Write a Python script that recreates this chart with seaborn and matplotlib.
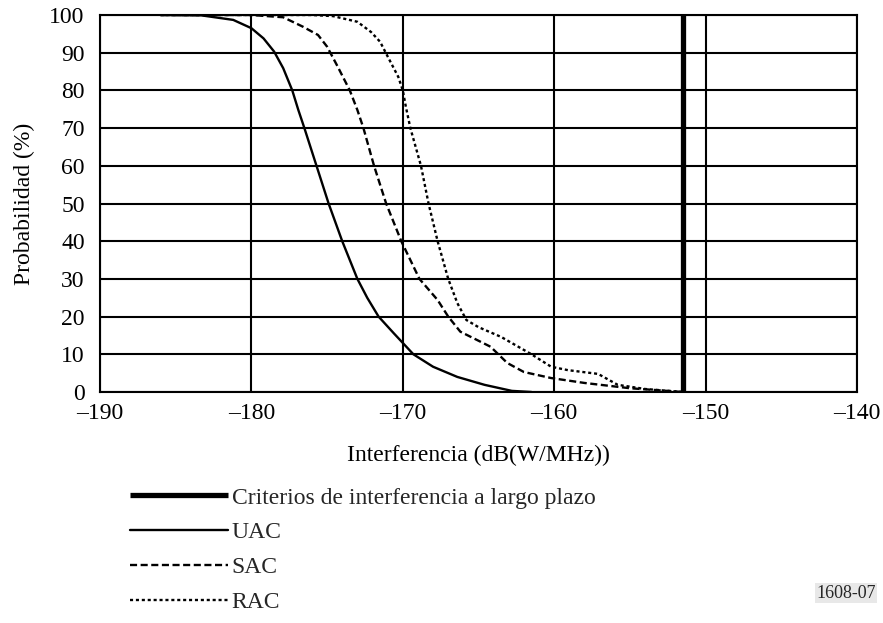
import pandas as pd
import seaborn as sns
import matplotlib.pyplot as plt

# Values
uac_x = [-186, -183.3, -181.2, -180, -179.2, -178.5, -177.9, -177.3, -176.9, -176.5, -176.1, -175.7,
         -174.9, -174.0, -173.0, -172.35, -171.6, -170.6, -169.3, -168, -166.4, -164.6, -162.8, -161.5]
uac_y = [100, 99.9, 98.7, 96.5, 93.8, 90.3, 85.9, 80, 74.8, 70, 65, 60,
         50, 40, 30, 25, 20, 15.6, 10, 6.7, 4, 1.9, 0.3, 0]

sac_x = [-186, -180, -177.9, -176.6, -175.6, -175, -174.3, -173.5, -173, -172.6, -171.9, -171.1,
         -170.1, -168.9, -167.7, -167, -166.2, -164.2, -163.1, -162, -160.2, -158, -155, -151.5]
sac_y = [100, 100, 99.4, 96.9, 94.7, 91.6, 86.3, 80, 74.8, 70, 60, 50,
         40, 30, 24.4, 20, 16, 12, 7.7, 5.3, 3.7, 2.4, 1, 0]

rac_x = [-186, -176, -174.6, -173, -172.1, -171.5, -171, -170.3, -170, -169.8, -169.5, -168.8,
         -168.3, -167.7, -167, -166.4, -165.8, -165, -163.5, -161.5, -160.2, -159.1, -157.1,
         -155.8, -154, -151.5]
rac_y = [100, 100, 99.7, 98.2, 95.5, 92.9, 89, 83.6, 80, 75.7, 70, 60,
         50, 40, 30, 23.6, 19.1, 17.2, 14.6, 10, 6.7, 5.8, 4.8,
         1.9, 0.8, 0]

criterio = -151.5

xticks = [-190, -180, -170, -160, -150, -140]
xtick_labels = ["\u2013190", "\u2013180", "\u2013170", "\u2013160", "\u2013150", "\u2013140"]
yticks = [0, 10, 20, 30, 40, 50, 60, 70, 80, 90, 100]

sns.set_theme(style="white")
plt.rcParams["font.family"] = ["Liberation Serif", "DejaVu Serif"]

fig = plt.figure(figsize=(8.83, 6.23), dpi=100)
ax = fig.add_axes([100 / 883, 1 - 392 / 623, 757 / 883, 377 / 623])

ax.axvline(criterio, color="black", lw=3.8, solid_capstyle="butt",
           label="Criterios de interferencia a largo plazo", zorder=3)

series = [
    ("UAC", uac_x, uac_y, "-"),
    ("SAC", sac_x, sac_y, (0, (3, 1.5))),
    ("RAC", rac_x, rac_y, (0, (1.3, 1.2))),
]
for name, xs, ys, ls in series:
    df = pd.DataFrame({"x": xs, "y": ys})
    sns.lineplot(data=df, x="x", y="y", ax=ax, color="black", lw=1.7,
                 linestyle=ls, label=name, zorder=4)

ax.set_xlim(-190, -140)
ax.set_ylim(0, 100)
ax.set_xticks(xticks)
ax.set_xticklabels(xtick_labels)
ax.set_yticks(yticks)
ax.tick_params(length=0, labelsize=17, colors="black")
ax.tick_params(axis="x", pad=8)
ax.tick_params(axis="y", pad=11)
ax.grid(True, color="black", lw=1.5)
for s in ax.spines.values():
    s.set_color("black")
    s.set_linewidth(1.5)

ax.set_xlabel("Interferencia (dB(W/MHz))", fontsize=17, color="black", labelpad=15)
ax.set_ylabel("Probabilidad (%)", fontsize=17, color="black", labelpad=10)

ax.get_legend().remove()
handles, labels = ax.get_legend_handles_labels()
fig.legend(handles, labels, loc="upper left", bbox_to_anchor=(130 / 883, 1 - 487 / 623),
           frameon=False, fontsize=17, handlelength=4.15, handletextpad=0.15,
           labelspacing=0.56, borderpad=0, borderaxespad=0)

fig.text(846 / 883, 1 - 593 / 623, "1608-07", fontsize=13, ha="center", va="center",
         bbox=dict(facecolor="#e8e8e8", edgecolor="none", pad=1))

fig.savefig("out.png", dpi=100)
